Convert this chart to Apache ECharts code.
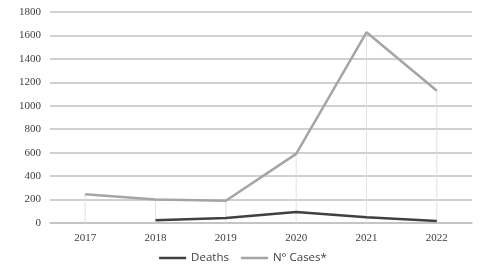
<!DOCTYPE html>
<html><head><meta charset="utf-8">
<script src="https://cdn.jsdelivr.net/npm/echarts@6/dist/echarts.min.js"></script>
<style>html,body{margin:0;padding:0;background:#fff}#c{width:486px;height:272px}</style>
</head><body><div id="c"></div>
<script>
const categories = ['2017','2018','2019','2020','2021','2022'];
const deaths = [null, 23, 43, 94, 49, 17];
const cases = [245, 200, 190, 590, 1627, 1128];
const yTicks = [0, 1800, 200];

const serif = '"Liberation Serif", "DejaVu Serif", serif';
const chart = echarts.init(document.getElementById('c'));
chart.setOption({
  animation: false,
  backgroundColor: '#fff',
  grid: {left: 50, right: 14, top: 12, bottom: 49},
  legend: {
    data: ['Deaths', 'N° Cases*'],
    bottom: 3, left: 'center',
    itemWidth: 27, itemHeight: 2.5, itemGap: 12,
    icon: 'rect',
    textStyle: {fontFamily: '"Open Sans", sans-serif', fontSize: 11.5, color: '#404040'}
  },
  xAxis: {
    type: 'category', data: categories, boundaryGap: true,
    axisLine: {lineStyle: {color: '#c0c0c0', width: 1.5}},
    axisTick: {show: false},
    axisLabel: {fontFamily: serif, fontSize: 11, color: '#404040', margin: 10}
  },
  yAxis: {
    type: 'value', min: yTicks[0], max: yTicks[1], interval: yTicks[2],
    axisLine: {show: false}, axisTick: {show: false},
    splitLine: {lineStyle: {color: '#c0c0c0', width: 1.5}},
    axisLabel: {fontFamily: serif, fontSize: 11, color: '#404040', margin: 9,
      formatter: v => String(v)}
  },
  series: [
    {name: 'drop', type: 'bar', data: cases, barWidth: 1, silent: true,
     itemStyle: {color: '#e2e2e2'}, z: 1},
    {name: 'Deaths', type: 'line', data: deaths, showSymbol: false, symbol: 'none',
     lineStyle: {color: '#404040', width: 2.5}, itemStyle: {color: '#404040'}, z: 3},
    {name: 'N° Cases*', type: 'line', data: cases, showSymbol: false, symbol: 'none',
     lineStyle: {color: '#a5a5a5', width: 2.5}, itemStyle: {color: '#a5a5a5'}, z: 2}
  ]
});
</script></body></html>
